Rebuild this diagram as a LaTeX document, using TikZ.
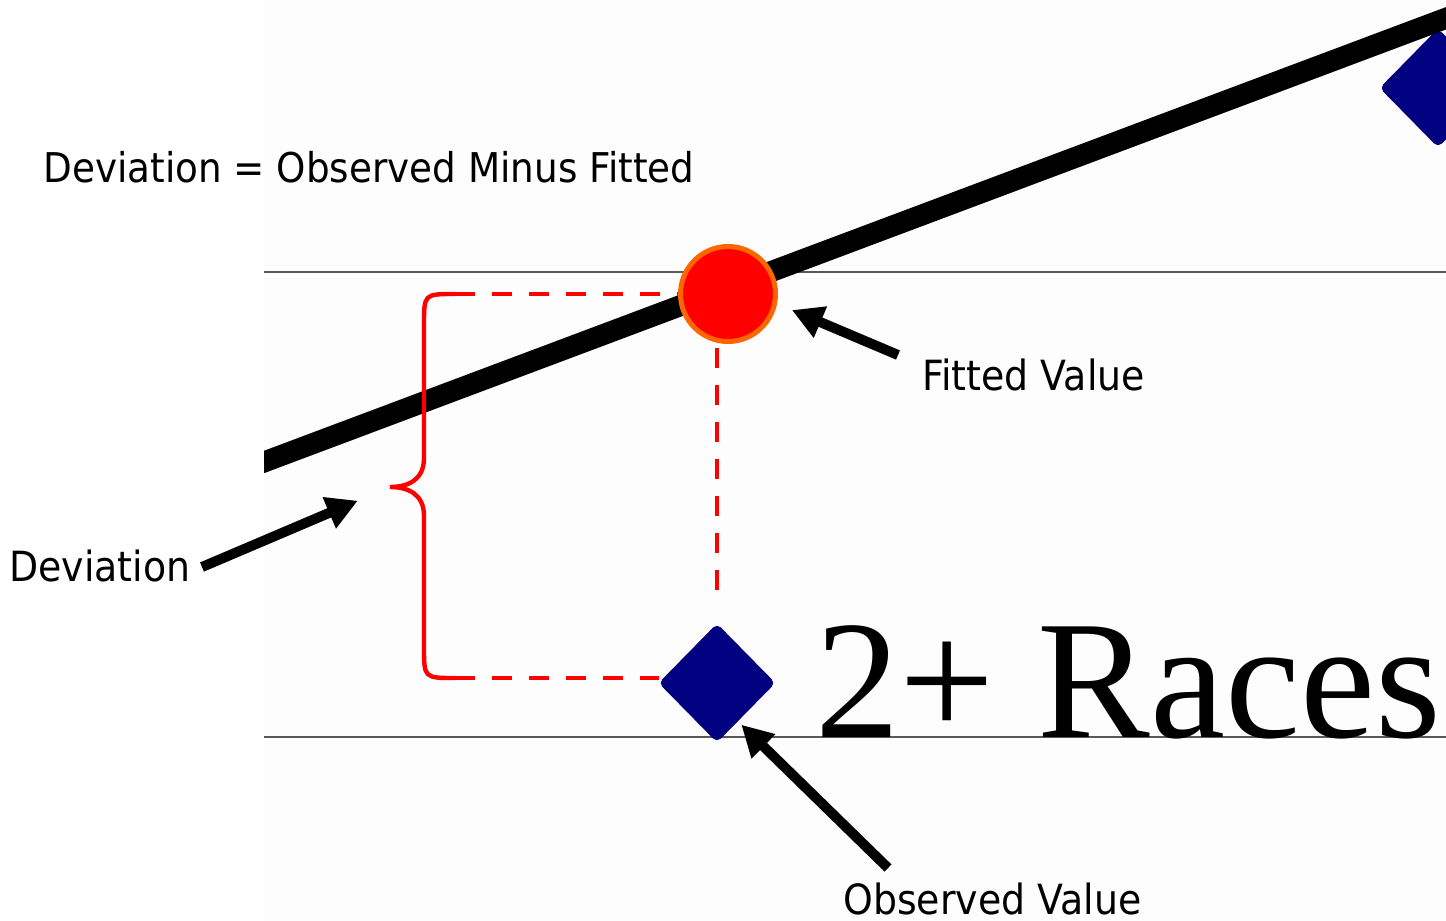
\documentclass[tikz,border=0pt]{standalone}
\usepackage{fontspec}
\setmainfont{DejaVu Sans}[FakeStretch=0.91]
\newfontfamily\racesfont{Liberation Serif}
\usepackage{tikz}
\usetikzlibrary{shapes.geometric,arrows.meta,calc}
\definecolor{navyblue}{RGB}{0,0,128}
\definecolor{ringorange}{RGB}{255,102,0}

\begin{document}
\begin{tikzpicture}[x=0.5pt,y=-0.5pt,>={Triangle[length=15.5pt,width=16pt]},
  pointer/.style={->,line width=5pt},
  dashline/.style={red,line width=2pt,dash pattern=on 10pt off 8.5pt},
  point/.style={diamond,fill=navyblue,draw=navyblue,rounded corners=2.5pt,inner sep=0pt,minimum width=58pt,minimum height=59pt},
  lbl/.style={anchor=base west,inner sep=0pt,font=\fontsize{20.8}{24}\selectfont}]
  % frame of the slide
  \useasboundingbox (0,0) rectangle (1446,921);
  \clip (0,0) rectangle (1446,921);
  \fill[white] (0,0) rectangle (1446,921);
  \fill[black!0.6] (264,0) rectangle (1446,921);
  % chart grid lines
  \draw[black!65,line width=1pt] (264,272) -- (1446,272);
  \draw[black!65,line width=1pt] (264,737) -- (1446,737);
  \node[anchor=base west,inner sep=0pt,font=\racesfont\fontsize{84.5}{90}\selectfont] (races) at (815,737) {2+ Races};
  % next data point, cut off at the edge
  \node[point] (obs2) at (1438,88) {};
  % fitted line
  \begin{scope}
    \clip (264,0) rectangle (1446,921);
    \draw[line width=10.5pt] (200,486) -- (1500,-2);
  \end{scope}
  % observed and fitted value
  \node[point] (obs) at (717,683) {};
  \node[circle,fill=red,draw=ringorange,line width=2.5pt,minimum size=47.5pt,inner sep=0pt] (fit) at (728,294) {};
  % brace for the deviation
  \coordinate (bracetop) at (455,294);
  \coordinate (bracebot) at (455,678);
  \coordinate (bracetip) at (390,487);
  \draw[red,line width=2.2pt] (bracetop) .. controls (424,294) .. (424,325) -- (424,458)
    .. controls (424,480) and (408,487) .. (bracetip)
    .. controls (408,487) and (424,494) .. (424,516) -- (424,647)
    .. controls (424,678) .. (bracebot);
  \draw[dashline] (bracetop) -- (fit);
  \draw[dashline] (bracebot) -- (bracebot -| obs.west);
  \draw[dashline,xshift=-1.5pt,shorten <=2pt,shorten >=10pt] (fit.south -| obs) -- (obs.north);
  % labels
  \node[lbl,font=\fontsize{20.5}{24}\selectfont] (title) at (43,182) {Deviation = Observed Minus Fitted};
  \node[lbl] (fitlbl) at (922,390) {Fitted Value};
  \node[lbl] (devlbl) at (9,581) {Deviation};
  \node[lbl] (obslbl) at (843,914) {Observed Value};
  % arrows
  \coordinate (fittail) at (898,355);
  \coordinate (devtail) at (202,567);
  \coordinate (obstail) at (888,868);
  \draw[pointer,shorten >=34.7pt] (fittail) -- ($(fit)+(0,-11)$);
  \draw[pointer,shorten >=17.5pt] (devtail) -- (bracetip);
  \draw[pointer,shorten >=17pt] (obstail) -- ($(obs)+(0,18)$);
\end{tikzpicture}
\end{document}
